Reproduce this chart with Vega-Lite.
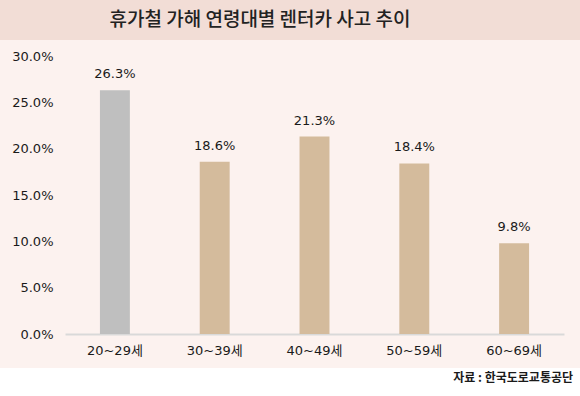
{
  "$schema": "https://vega.github.io/schema/vega-lite/v6.json",
  "background": "#fcf2ef",
  "padding": 0,
  "spacing": 0,
  "config": {
    "view": {"stroke": null},
    "font": "DejaVu Sans, Noto Sans CJK KR",
    "concat": {"spacing": 0}
  },
  "vconcat": [
    {
      "width": 580,
      "height": 40,
      "view": {"fill": "#f2ddd6", "stroke": null},
      "data": {"values": [{"title": "휴가철 가해 연령대별 렌터카 사고 추이"}]},
      "mark": {"type": "text", "font": "Noto Sans CJK KR", "fontSize": 19, "fontWeight": 500, "color": "#222222", "dx": -30},
      "encoding": {"text": {"field": "title"}}
    },
    {
      "width": 580,
      "height": 294,
      "data": {"values": [
        {"age": "20~29세", "value": 0.263},
        {"age": "30~39세", "value": 0.186},
        {"age": "40~49세", "value": 0.213},
        {"age": "50~59세", "value": 0.184},
        {"age": "60~69세", "value": 0.098}
      ]},
      "encoding": {
        "x": {
          "field": "age", "type": "nominal", "sort": null,
          "scale": {"paddingInner": 0.7, "paddingOuter": 0.35, "range": [65, 564]},
          "axis": {"title": null, "labelAngle": 0, "ticks": false, "domainColor": "#d9d9d9", "domainWidth": 2, "labelPadding": 10, "labelFontSize": 13, "labelColor": "#1a1a1a", "minExtent": 34, "maxExtent": 34}
        },
        "y": {
          "field": "value", "type": "quantitative",
          "scale": {"domain": [0, 0.31727], "nice": false},
          "axis": {"title": null, "domain": false, "ticks": false, "grid": false, "format": ".1%", "values": [0, 0.05, 0.1, 0.15, 0.2, 0.25, 0.3], "labelPadding": 12, "labelFontSize": 13, "labelColor": "#1a1a1a", "offset": -65}
        }
      },
      "layer": [
        {
          "mark": {"type": "bar"},
          "encoding": {
            "color": {"field": "age", "type": "nominal", "sort": null, "legend": null,
              "scale": {"domain": ["20~29세", "30~39세", "40~49세", "50~59세", "60~69세"], "range": ["#bfbfbf", "#d4bb9c", "#d4bb9c", "#d4bb9c", "#d4bb9c"]}}
          }
        },
        {
          "mark": {"type": "text", "baseline": "alphabetic", "dy": -12, "fontSize": 13, "color": "#1a1a1a"},
          "encoding": {"text": {"field": "value", "type": "quantitative", "format": ".1%"}}
        }
      ]
    },
    {
      "width": 580,
      "height": 28,
      "view": {"fill": "#ffffff", "stroke": null},
      "data": {"values": [{"src": "자료 : 한국도로교통공단"}]},
      "mark": {"type": "text", "font": "Noto Sans CJK KR", "fontSize": 12, "fontWeight": "bold", "color": "#1a1a1a", "align": "right", "dx": -7, "dy": -4},
      "encoding": {"text": {"field": "src"}, "x": {"value": "width"}}
    }
  ]
}
